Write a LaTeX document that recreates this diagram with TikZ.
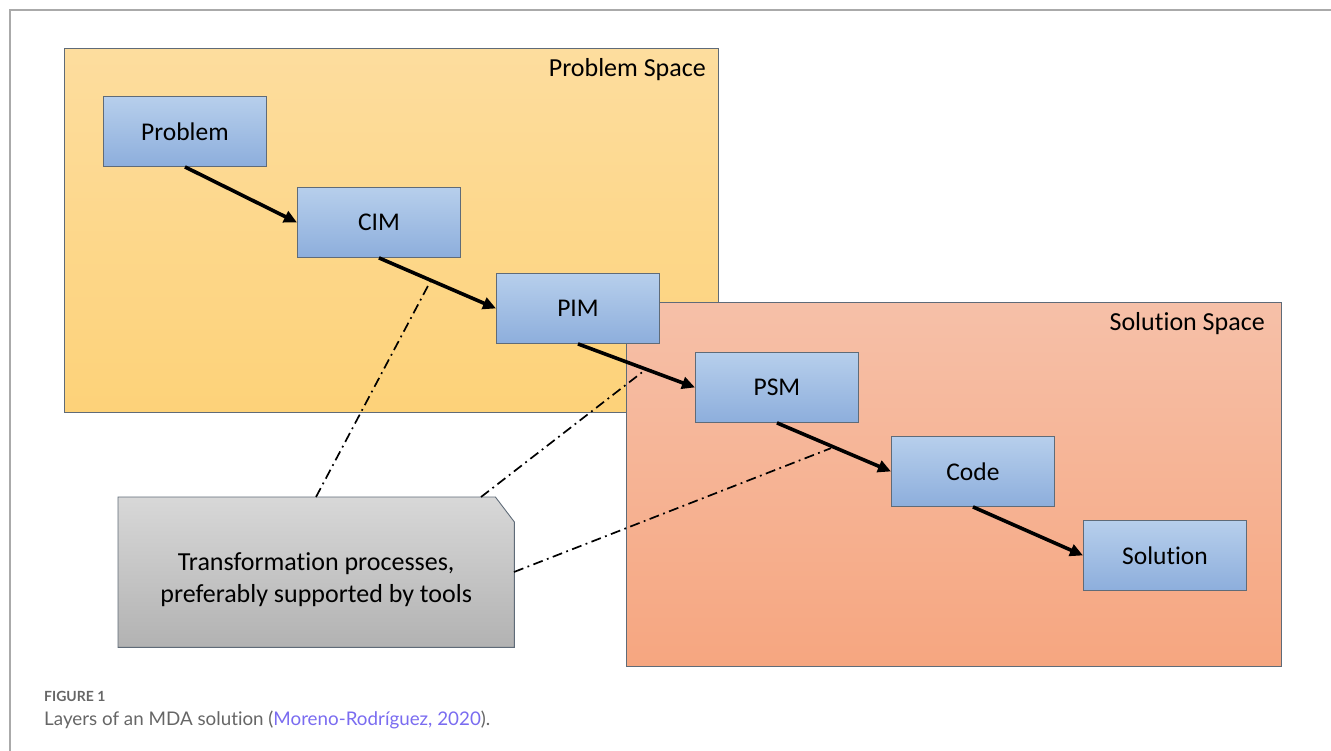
\documentclass[tikz,border=0pt]{standalone}
\usepackage{fontspec}
\setmainfont{Carlito}[RawFeature={-liga;-clig;-calt;-dlig}]
\newfontfamily\capfont{Lato}[RawFeature={-liga;-clig;-calt;-dlig}]
\usetikzlibrary{arrows.meta,calc}
\definecolor{frame}{HTML}{AAAAAA}
\definecolor{edge}{HTML}{5F6B78}
\definecolor{probtop}{HTML}{FDDD9E}
\definecolor{probbot}{HTML}{FDD279}
\definecolor{soltop}{HTML}{F6C0A8}
\definecolor{solbot}{HTML}{F6A680}
\definecolor{bluetop}{HTML}{B7CFEC}
\definecolor{bluebot}{HTML}{8DAEDC}
\definecolor{greytop}{HTML}{D8D8D8}
\definecolor{greybot}{HTML}{B2B2B2}
\definecolor{captext}{HTML}{666666}
\definecolor{caplink}{HTML}{7A6CF0}
\tikzset{
  space/.style={draw=edge, line width=0.9pt, anchor=north west, inner sep=0pt},
  layer/.style={draw=edge, line width=0.9pt, top color=bluetop, bottom color=bluebot,
    minimum width=163pt, minimum height=70pt, anchor=north west, inner sep=0pt,
    font=\fontsize{25.5}{30}\selectfont},
  flow/.style={line width=3.6pt, -{Triangle[length=13pt,width=12pt]}},
  link/.style={line width=1.7pt, dash pattern=on 10pt off 4.5pt on 1.8pt off 4.5pt},
  spacelabel/.style={font=\fontsize{26}{30}\selectfont, anchor=north east, inner sep=0pt}
}
\begin{document}
\begin{tikzpicture}[x=1pt,y=-1pt]
\useasboundingbox (0,0) rectangle (1331,751);
% page frame
\draw[frame, line width=1.5pt] (10,751) -- (10,10) -- (1331,10);
% the two spaces
\node[space, top color=probtop, bottom color=probbot, minimum width=654pt, minimum height=364pt] (prob) at (64,48) {};
\node[spacelabel] (problabel) at (706,58) {Problem Space};
\node[space, top color=soltop, bottom color=solbot, minimum width=655pt, minimum height=364pt] (sol) at (626,302) {};
\node[spacelabel] (sollabel) at (1265,312) {Solution Space};
% layers
\node[layer] (problem) at (103,96) {Problem};
\node[layer] (cim) at (297,187) {CIM};
\node[layer] (pim) at (496,273) {PIM};
\node[layer] (psm) at (695,352) {PSM};
\node[layer] (code) at (891,436) {Code};
\node[layer] (solution) at (1083,520) {Solution};
% transformations
\draw[flow] (problem.south) -- (cim.west) coordinate[pos=0.5] (t1);
\draw[flow] (cim.south) -- (pim.west) coordinate[pos=0.5] (t2);
\draw[flow] (pim.south) -- (psm.west) coordinate[pos=0.5] (t3);
\draw[flow] (psm.south) -- (code.west) coordinate[pos=0.5] (t4);
\draw[flow] (code.south) -- (solution.west) coordinate[pos=0.5] (t5);
% note with a cut upper right corner
\node[minimum width=396pt, minimum height=150pt, inner sep=0pt, anchor=north west] (note) at (118,497) {};
\draw[edge, line width=0.9pt, top color=greytop, bottom color=greybot]
  (note.north west) -- ($(note.north east)+(-19,0)$) -- ($(note.north east)+(0,25)$)
  -- (note.south east) -- (note.south west) -- cycle;
\node[align=center, font=\fontsize{26}{32}\selectfont, inner sep=0pt] (notetext) at ($(note.center)+(0,7)$)
  {Transformation processes,\\preferably supported by tools};
\coordinate (n1) at (316,497);
\coordinate (n2) at (481,497);
\coordinate (n3) at (514,572);
\draw[link] (n1) -- ($(t2)+(-7,-2)$);
\draw[link] (n2) -- ($(t3)+(9,4)$);
\draw[link] (n3) -- ($(t4)+(-3,1)$);
% caption
\node[anchor=base west, text=captext, font=\capfont\bfseries\fontsize{14}{16}\selectfont, inner sep=0pt] (fig) at (44,701) {FIGURE 1};
\node[anchor=base west, text=captext, font=\capfont\fontsize{18.8}{22}\selectfont, inner sep=0pt] (cap) at (44,725)
  {Layers of an MDA solution (\textcolor{caplink}{Moreno-Rodríguez, 2020}).};
\end{tikzpicture}
\end{document}
